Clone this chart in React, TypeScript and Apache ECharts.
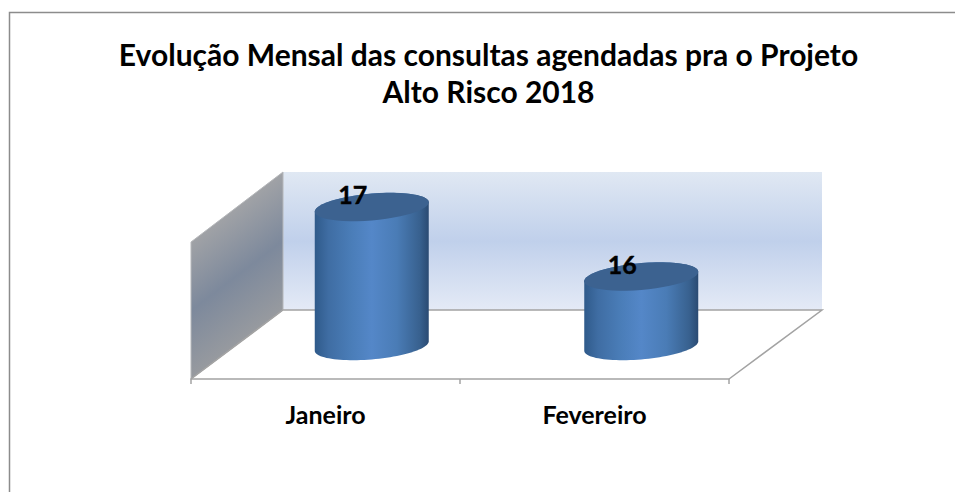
import React, { useEffect, useRef } from "react";
import * as echarts from "echarts";

const titleText = "Evolução Mensal das consultas agendadas pra o Projeto\nAlto Risco 2018";
const categories = ["Janeiro", "Fevereiro"];
const values = [17, 16];
const axisMin = 15;
const axisMax = 17;

const FONT = "Lato, Carlito, Calibri, sans-serif";
const LINE = "#a3a3a3";

function ellipsePoints(cx: number, cy: number, a: number, b: number, s: number, from: number, to: number) {
  const pts: number[][] = [];
  const n = 48;
  for (let i = 0; i <= n; i++) {
    const t = from + ((to - from) * i) / n;
    pts.push([cx + a * Math.cos(t), cy + b * Math.sin(t) - s * Math.cos(t)]);
  }
  return pts;
}

const renderCylinder = (_params: any, api: any) => {
  const cat = api.value(0);
  const val = api.value(1);
  const top = api.coord([cat, val]);
  const base = api.coord([cat, axisMin]);
  const a = api.size([1, 0])[0] * 0.2115;
  const b = 13.4;
  const s = 4.7;
  const lower = ellipsePoints(base[0], base[1], a, b, s, 0, Math.PI);
  const upper = ellipsePoints(top[0], top[1], a, b, s, Math.PI, 2 * Math.PI);
  const bodyFill = new echarts.graphic.LinearGradient(0, 0, 1, 0, [
    { offset: 0, color: "#2f5a8a" },
    { offset: 0.12, color: "#3f6da3" },
    { offset: 0.32, color: "#4a7db8" },
    { offset: 0.5, color: "#5487c8" },
    { offset: 0.72, color: "#4a7cb6" },
    { offset: 0.92, color: "#38618f" },
    { offset: 1, color: "#2a4a72" },
  ]);
  return {
    type: "group",
    children: [
      { type: "polygon", shape: { points: [...lower, ...upper] }, style: { fill: bodyFill } },
      {
        type: "polygon",
        shape: { points: ellipsePoints(top[0], top[1], a, b, s, 0, 2 * Math.PI) },
        style: { fill: "#3c6290" },
      },
      {
        type: "text",
        x: top[0] - 19,
        y: top[1] - 13,
        style: {
          text: String(val),
          fill: "#000",
          font: `bold 25px ${FONT}`,
          align: "center",
          verticalAlign: "middle",
          stroke: "#000",
          lineWidth: 0.4,
        },
      },
    ],
  };
};

export default function App() {
  const ref = useRef<HTMLDivElement>(null);
  useEffect(() => {
    const chart = echarts.init(ref.current!, undefined, { renderer: "svg" });
    chart.setOption({
      animation: false,
      backgroundColor: "#fff",
      title: {
        text: titleText,
        left: 483.5,
        top: 30,
        textAlign: "center",
        textStyle: { fontFamily: FONT, fontWeight: "bold", fontSize: 30, lineHeight: 37, color: "#000" },
      },
      grid: [
        { left: 237, width: 539, top: 207, bottom: 146 },
        { left: 191, width: 538, top: 242, bottom: 113 },
      ],
      xAxis: [
        { gridIndex: 0, type: "category", data: categories, show: false },
        {
          gridIndex: 1,
          type: "category",
          data: categories,
          axisLine: { show: true, lineStyle: { color: LINE, width: 1.5 } },
          axisTick: { show: true, length: 5, alignWithLabel: false, lineStyle: { color: LINE, width: 1.5 } },
          axisLabel: { color: "#000", fontFamily: FONT, fontWeight: "bold", fontSize: 25, margin: 22 },
        },
      ],
      yAxis: [
        { gridIndex: 0, type: "value", min: axisMin, max: axisMax, show: false },
        { gridIndex: 1, type: "value", min: 0, max: 1, show: false },
      ],
      graphic: [
        {
          type: "polyline",
          shape: { points: [[9.5, 492], [9.5, 12.5], [955, 12.5]] },
          style: { fill: "none", stroke: "#8c8c8c", lineWidth: 1.5 },
        },
        {
          type: "polygon",
          shape: { points: [[283, 172], [822, 172], [822, 310], [283, 310]] },
          style: {
            fill: new echarts.graphic.LinearGradient(0, 0, 0, 1, [
              { offset: 0, color: "#e0e8f3" },
              { offset: 0.5, color: "#c0d0eb" },
              { offset: 1, color: "#e4eaf6" },
            ]),
          },
        },
        {
          type: "polygon",
          shape: { points: [[191, 242], [283, 172], [283, 310], [191, 379]] },
          style: {
            fill: new echarts.graphic.LinearGradient(191, 242, 257, 329, [
              { offset: 0, color: "#a0a2a6" },
              { offset: 0.5, color: "#7d899c" },
              { offset: 1, color: "#979a9f" },
            ], true),
            stroke: "#b5b7ba",
            lineWidth: 1,
          },
        },
        {
          type: "polyline",
          shape: { points: [[191, 379], [283, 310], [822, 310], [729, 379]] },
          style: { fill: "none", stroke: LINE, lineWidth: 1.5 },
        },
      ],
      series: [
        {
          type: "custom",
          coordinateSystem: "cartesian2d",
          xAxisIndex: 0,
          yAxisIndex: 0,
          clip: false,
          z: 5,
          data: categories.map((_, i) => [i, values[i]]),
          renderItem: renderCylinder,
        },
      ],
    });
    return () => chart.dispose();
  }, []);
  return <div ref={ref} style={{ position: "fixed", left: 0, top: 0, width: 955, height: 492 }} />;
}
